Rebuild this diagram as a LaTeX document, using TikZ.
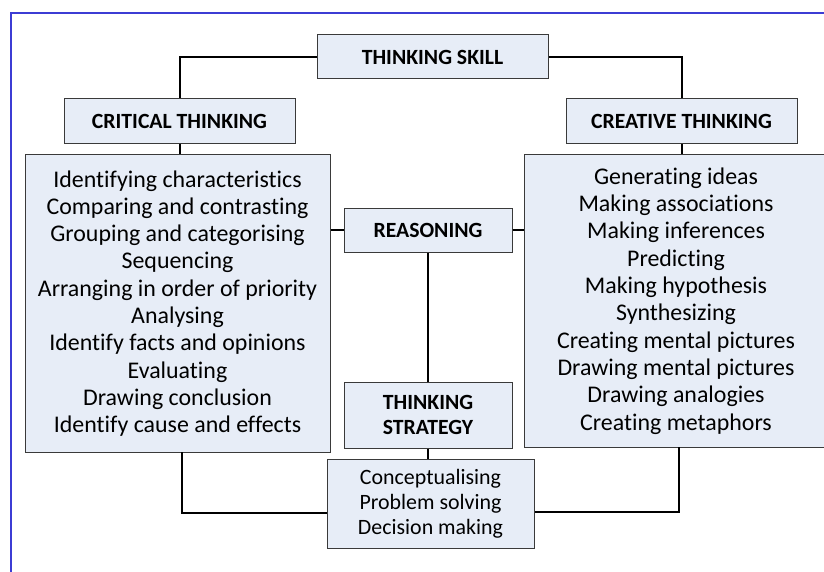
\documentclass[tikz,border=0pt]{standalone}
\usepackage{fontspec}
\setmainfont{Carlito}[Ligatures={NoCommon}]
\definecolor{boxfill}{HTML}{E7EDF7}
\definecolor{boxline}{HTML}{3A3A3A}
\definecolor{frameblue}{HTML}{3C3CD4}
\begin{document}
\begin{tikzpicture}[x=1pt,y=-1pt,
  box/.style={draw=boxline, line width=1pt, fill=boxfill, inner sep=0pt, align=center},
  head/.style={box, font=\fontsize{21.7}{25}\selectfont\bfseries},
  list/.style={box, font=\fontsize{23.9}{27.3}\selectfont},
  link/.style={draw=black, line width=2pt}]
\useasboundingbox (0,0) rectangle (824,572);
\fill[white] (0,0) rectangle (824,572);
% frame
\draw[frameblue, line width=2.2pt] (11,572) -- (11,13) -- (826,13);
% nodes
\node[head, minimum width=231pt, minimum height=44pt] (ts) at (432.5,57) {THINKING SKILL};
\node[head, minimum width=231pt, minimum height=45pt] (ct) at (179.5,121.5) {CRITICAL THINKING};
\node[head, minimum width=231pt, minimum height=45pt] (cr) at (681.5,121.5) {CREATIVE THINKING};
\node[list, minimum width=305pt, minimum height=297pt] (lb) at (177.5,303.5) {Identifying characteristics\\Comparing and contrasting\\Grouping and categorising\\Sequencing\\Arranging in order of priority\\Analysing\\Identify facts and opinions\\Evaluating\\Drawing conclusion\\Identify cause and effects};
\node[list, minimum width=304pt, minimum height=292pt] (rb) at (676,301) {Generating ideas\\Making associations\\Making inferences\\Predicting\\Making hypothesis\\Synthesizing\\Creating mental pictures\\Drawing mental pictures\\Drawing analogies\\Creating metaphors};
\node[head, minimum width=168pt, minimum height=44pt] (re) at (428,230) {REASONING};
\node[head, minimum width=168pt, minimum height=66pt] (st) at (428,415) {THINKING\\STRATEGY};
\node[box, font=\fontsize{21.9}{25}\selectfont, minimum width=207pt, minimum height=89pt] (co) at (430.5,503.5) {Conceptualising\\Problem solving\\Decision making};
% connectors
\coordinate (lbot) at (182,452);
\coordinate (rbot) at (679,447);
\path[link] (ts.west) -| (ct.north);
\path[link] (ts.east) -| (cr.north);
\path[link] (ct.south) -- (ct.south |- lb.north);
\path[link] (cr.south) -- (cr.south |- rb.north);
\path[link] (re.west -| lb.east) -- (re.west);
\path[link] (re.east) -- (re.east -| rb.west);
\path[link] (re.south) -- (re.south |- st.north);
\path[link] (st.south) -- (st.south |- co.north);
\path[link] (lbot) |- ([yshift=-9pt]co.west);
\path[link] (rbot) |- ([yshift=-8pt]co.east);
\end{tikzpicture}
\end{document}
